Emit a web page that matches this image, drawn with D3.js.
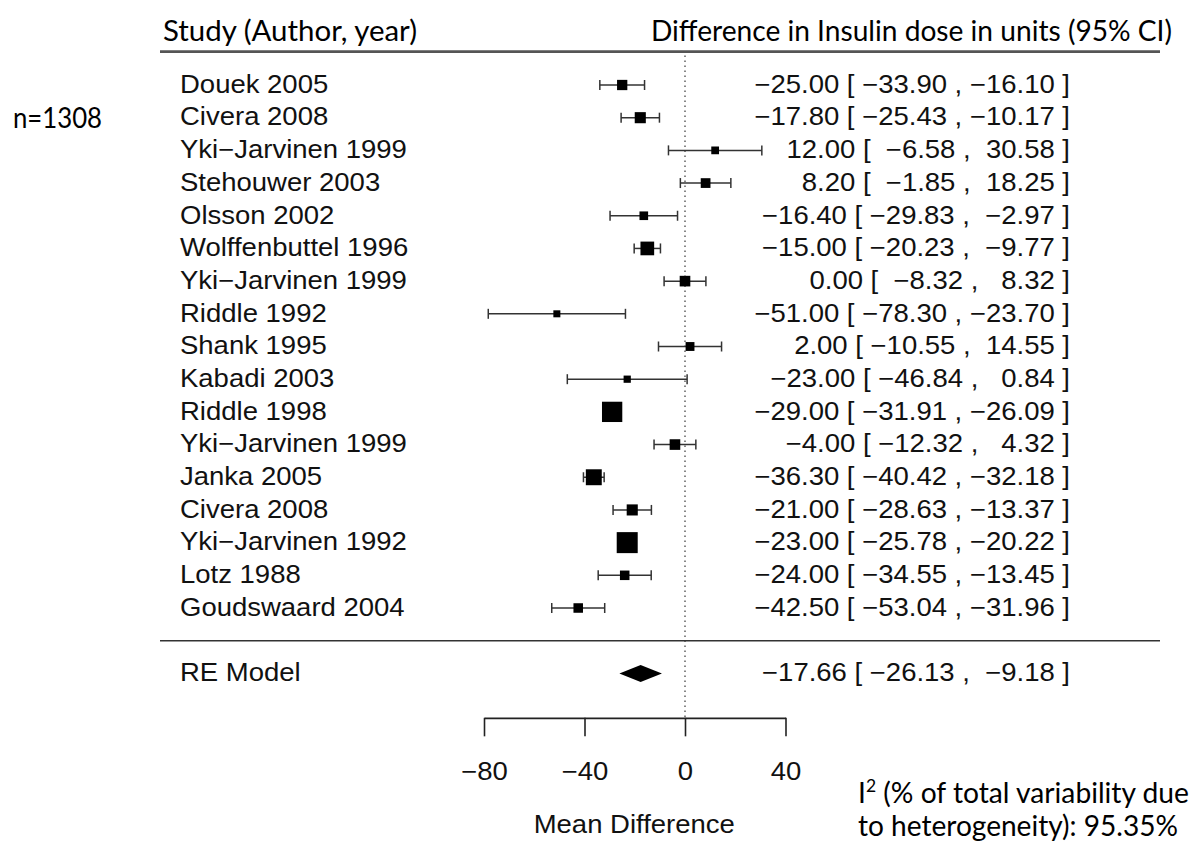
<!DOCTYPE html>
<html>
<head>
<meta charset="utf-8">
<script src="https://cdn.jsdelivr.net/npm/d3@7"></script>
<style>
  html, body { margin: 0; padding: 0; background: #fff; }
  svg { display: block; }
  text { white-space: pre; }
</style>
</head>
<body>
<svg id="chart" width="1197" height="842"></svg>
<script>
// ---- data ----
const studies = [
  "Douek 2005", "Civera 2008", "Yki\u2212Jarvinen 1999", "Stehouwer 2003",
  "Olsson 2002", "Wolffenbuttel 1996", "Yki\u2212Jarvinen 1999", "Riddle 1992",
  "Shank 1995", "Kabadi 2003", "Riddle 1998", "Yki\u2212Jarvinen 1999",
  "Janka 2005", "Civera 2008", "Yki\u2212Jarvinen 1992", "Lotz 1988",
  "Goudswaard 2004"
];
const estimates = [-25.00, -17.80, 12.00, 8.20, -16.40, -15.00, 0.00, -51.00,
  2.00, -23.00, -29.00, -4.00, -36.30, -21.00, -23.00, -24.00, -42.50];
const lowerCI = [-33.90, -25.43, -6.58, -1.85, -29.83, -20.23, -8.32, -78.30,
  -10.55, -46.84, -31.91, -12.32, -40.42, -28.63, -25.78, -34.55, -53.04];
const upperCI = [-16.10, -10.17, 30.58, 18.25, -2.97, -9.77, 8.32, -23.70,
  14.55, 0.84, -26.09, 4.32, -32.18, -13.37, -20.22, -13.45, -31.96];
const summaryLabel = "RE Model";
const summaryEstimate = -17.66;
const summaryLower = -26.13;
const summaryUpper = -9.18;
const axisTicks = [-80, -40, 0, 40];
const headerLeft = "Study (Author, year)";
const headerRight = "Difference in Insulin dose in units (95% CI)";
const xAxisTitle = "Mean Difference";
const sampleNote = "n=1308";
const i2Value = "95.35%";

// ---- layout ----
const svg = d3.select("#chart");
const x = d3.scaleLinear().domain([-80, 40]).range([484, 785.5]);
const y = d3.scaleLinear().domain([0, 16]).range([85, 608]);
const rFont = "'Liberation Sans', Arial, sans-serif";
const rSize = 25;
const stretch = 1.1;
const baseOff = 7.8;
const cFont = "Lato, 'Open Sans', sans-serif";

// precision (1/SE) from CI widths -> square size, as metafor does
const precision = lowerCI.map((lo, i) => 3.92 / (upperCI[i] - lo));
const size = d3.scaleLinear().domain(d3.extent(precision)).range([7, 21]);

const fmt = d3.format(">6.2f");
const annot = (e, lo, hi) => `${fmt(e)} [ ${fmt(lo)} , ${fmt(hi)} ]`;

// header
svg.append("text").attr("x", 163).attr("y", 41)
  .attr("font-family", cFont).attr("font-size", 29)
  .attr("textLength", 254).attr("lengthAdjust", "spacingAndGlyphs")
  .text(headerLeft);
svg.append("text").attr("x", 651).attr("y", 41)
  .attr("font-family", cFont).attr("font-size", 29)
  .attr("textLength", 521).attr("lengthAdjust", "spacingAndGlyphs")
  .text(headerRight);

svg.append("line").attr("x1", 160).attr("x2", 1160)
  .attr("y1", y(-1.02)).attr("y2", y(-1.02))
  .attr("stroke", "#555").attr("stroke-width", 2.6);

// n note
svg.append("text").attr("x", 13).attr("y", 128)
  .attr("font-family", cFont).attr("font-size", 29)
  .attr("textLength", 89).attr("lengthAdjust", "spacingAndGlyphs")
  .text(sampleNote);

// reference (zero) line, dotted
svg.append("line").attr("x1", x(0)).attr("x2", x(0))
  .attr("y1", y(-0.9)).attr("y2", y(19.36))
  .attr("stroke", "#555").attr("stroke-width", 1.4)
  .attr("stroke-dasharray", "1.5,3.5");

// separator line
svg.append("line").attr("x1", 160).attr("x2", 1160)
  .attr("y1", y(17)).attr("y2", y(17))
  .attr("stroke", "#333").attr("stroke-width", 1.6);

// study rows
const rows = svg.append("g").selectAll("g.row")
  .data(studies.map((s, i) => ({ s, i, e: estimates[i], lo: lowerCI[i], hi: upperCI[i], p: precision[i] })))
  .join("g").attr("class", "row");

rows.append("text")
  .attr("transform", d => `translate(180,${y(d.i) + baseOff}) scale(${stretch},1)`)
  .attr("font-family", rFont).attr("font-size", rSize).attr("fill", "#111")
  .text(d => d.s);

rows.append("line")
  .attr("x1", d => x(d.lo)).attr("x2", d => x(d.hi))
  .attr("y1", d => y(d.i)).attr("y2", d => y(d.i))
  .attr("stroke", "#333").attr("stroke-width", 1.5);
rows.append("line")
  .attr("x1", d => x(d.lo)).attr("x2", d => x(d.lo))
  .attr("y1", d => y(d.i) - 5).attr("y2", d => y(d.i) + 5)
  .attr("stroke", "#333").attr("stroke-width", 1.5);
rows.append("line")
  .attr("x1", d => x(d.hi)).attr("x2", d => x(d.hi))
  .attr("y1", d => y(d.i) - 5).attr("y2", d => y(d.i) + 5)
  .attr("stroke", "#333").attr("stroke-width", 1.5);

rows.append("rect")
  .attr("x", d => x(d.e) - size(d.p) / 2)
  .attr("y", d => y(d.i) - size(d.p) / 2)
  .attr("width", d => size(d.p)).attr("height", d => size(d.p))
  .attr("fill", "#000");

rows.append("text")
  .attr("transform", d => `translate(1070,${y(d.i) + baseOff}) scale(${stretch},1)`)
  .attr("text-anchor", "end")
  .attr("font-family", rFont).attr("font-size", rSize).attr("fill", "#111")
  .text(d => annot(d.e, d.lo, d.hi));

// summary
const ySum = y(18);
svg.append("text")
  .attr("transform", `translate(180,${ySum + baseOff}) scale(${stretch},1)`)
  .attr("font-family", rFont).attr("font-size", rSize).attr("fill", "#111")
  .text(summaryLabel);
svg.append("path")
  .attr("d", `M${x(summaryLower)},${ySum} L${x(summaryEstimate)},${ySum - 8.5} L${x(summaryUpper)},${ySum} L${x(summaryEstimate)},${ySum + 8.5} Z`)
  .attr("fill", "#000");
svg.append("text")
  .attr("transform", `translate(1070,${ySum + baseOff}) scale(${stretch},1)`)
  .attr("text-anchor", "end")
  .attr("font-family", rFont).attr("font-size", rSize).attr("fill", "#111")
  .text(annot(summaryEstimate, summaryLower, summaryUpper));

// axis
const yAxis = y(19.36);
const axisG = svg.append("g").attr("transform", `translate(0,${yAxis})`)
  .call(d3.axisBottom(x).tickValues(axisTicks).tickSize(18.5).tickSizeOuter(0)
    .tickPadding(26).tickFormat(d3.format("d")));
axisG.select(".domain").attr("stroke", "#222").attr("stroke-width", 1.6);
axisG.selectAll(".tick line").attr("stroke", "#222").attr("stroke-width", 1.6);
axisG.selectAll(".tick text")
  .attr("font-family", rFont).attr("font-size", rSize).attr("fill", "#111")
  .attr("transform", `scale(${stretch},1)`);

svg.append("text")
  .attr("transform", `translate(${(x(-80) + x(40)) / 2 - 0.5},833) scale(${stretch},1)`)
  .attr("text-anchor", "middle")
  .attr("font-family", rFont).attr("font-size", rSize).attr("fill", "#111")
  .text(xAxisTitle);

// I^2 note
const i2 = svg.append("text").attr("x", 858).attr("y", 803)
  .attr("font-family", cFont).attr("font-size", 29)
  .attr("textLength", 331).attr("lengthAdjust", "spacingAndGlyphs");
i2.append("tspan").text("I");
i2.append("tspan").attr("font-size", 18).attr("dy", -11).text("2");
i2.append("tspan").attr("dy", 11).text(" (% of total variability due");
svg.append("text").attr("x", 858).attr("y", 836)
  .attr("font-family", cFont).attr("font-size", 29)
  .attr("textLength", 320).attr("lengthAdjust", "spacingAndGlyphs")
  .text(`to heterogeneity): ${i2Value}`);
</script>
</body>
</html>
